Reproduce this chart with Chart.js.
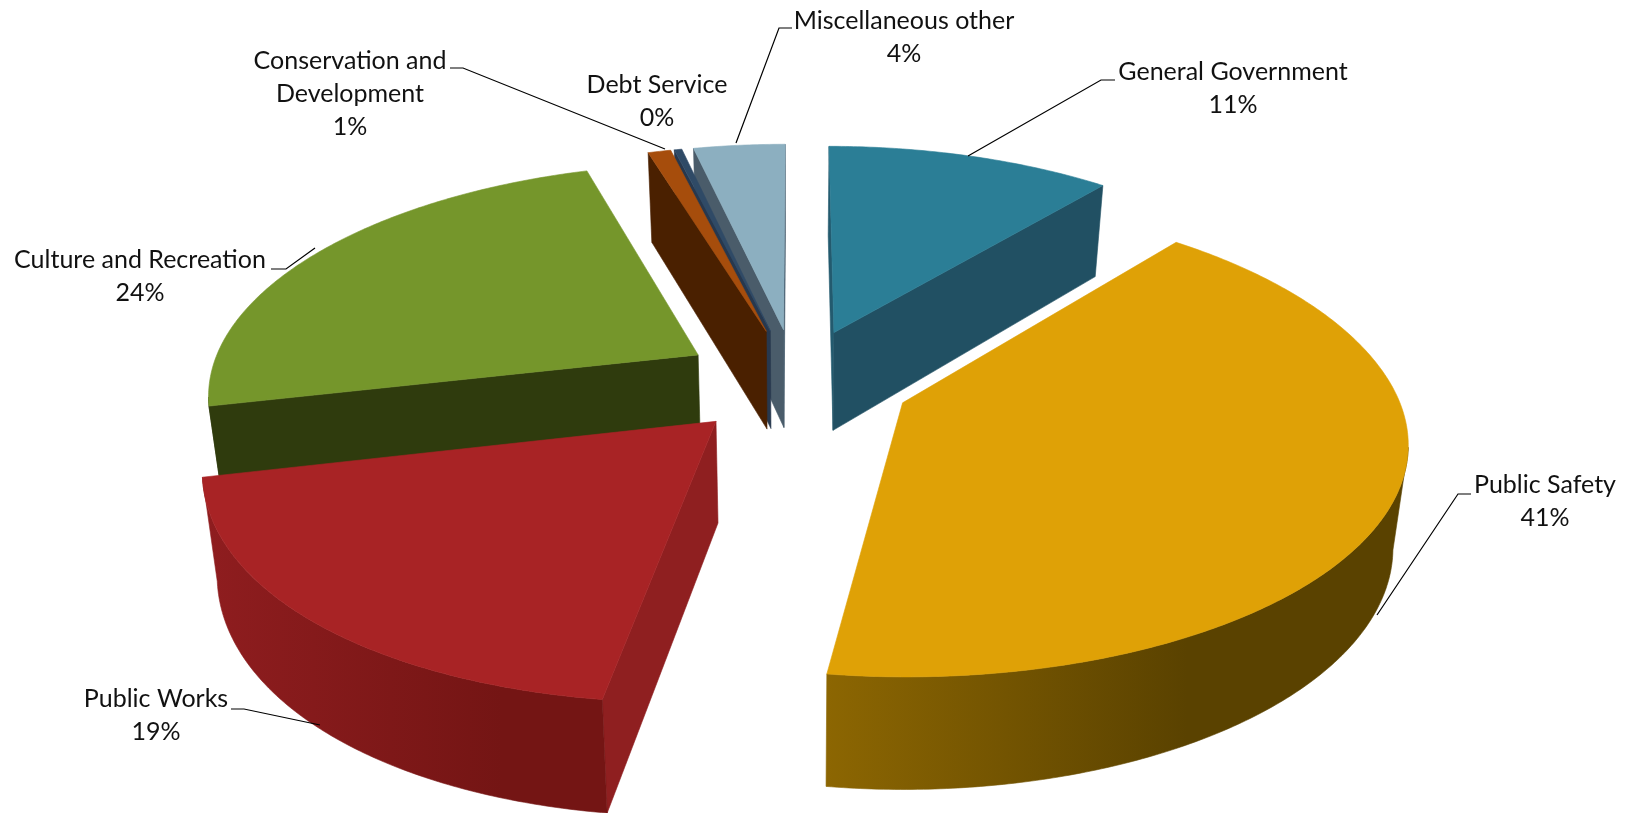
<!DOCTYPE html>
<html><head><meta charset="utf-8">
<script src="https://cdn.jsdelivr.net/npm/chart.js@4"></script>
<style>html,body{margin:0;padding:0;background:#fff;overflow:hidden}#w{width:1629px;height:813px;position:relative}</style>
</head><body><div id="w"><canvas id="c"></canvas></div>
<script>
// Data
const categories = ['General Government','Public Safety','Public Works','Culture and Recreation','Conservation and Development','Debt Service','Miscellaneous other'];
const values = [11.2,41.45,19.4,24.1,0.9,0.3,3.6];
const shownPercent = ['11%','41%','19%','24%','1%','0%','4%'];

// Styles
const topColors  = ['#2b7e96','#dfa106','#a82325','#75962b','#a64d0c','#2f4a66','#8cafc0'];
const startFace  = ['#235a6e','#5c4300','#8f1f20','#2f3b0d','#4a2000','#27384e','#4a5c6a'];
const endFace    = ['#215063','#5c4300','#8f1f20','#2f3b0d','#401e02','#27384e','#3f5566'];
const wallLeft   = ['#235a6e','#8c6602','#8f1d1f','#2f3b0d','#401e02','#27384e','#4a5c6a'];
const wallRight  = ['#235a6e','#5a4200','#741514','#2f3b0d','#401e02','#27384e','#4a5c6a'];
const drawOrder  = [0,6,5,4,3,1,2];
const labelLines = [['General Government'],['Public Safety'],['Public Works'],['Culture and Recreation'],['Conservation and','Development'],['Debt Service'],['Miscellaneous other']];
const labelXY    = [[1233,72],[1545,485],[156,699],[140,260],[350,61],[657,85],[904,21]];
const leaders    = [[[1115,80],[1101,80],[968,156]],[[1471,494],[1458,494],[1377,615]],[[231,709],[244,709],[320,725]],[[271,269],[286,269],[315,248]],[[450,68],[463,68],[665,149]],null,[[792,28],[779,28],[736,143]]];
const LINE_H = 33;
const SX = 1.437, SY = 0.665, PERSP = 0.147, PERSP_X = 0.155, DEPTH = 0.293, DEPTH_P = 0.68, NEAR_SKEW = 0.04, BOTTOM_X = 0.975;

const pie3d = {
  id:'pie3d',
  beforeDatasetsDraw(chart){
    const ctx = chart.ctx;
    const arcs = chart.getDatasetMeta(0).data;
    drawOrder.forEach(i=>drawSlice(ctx,arcs[i],i));
    return false;
  },
  afterDraw(chart){
    const ctx = chart.ctx;
    ctx.save();
    ctx.strokeStyle='#000';ctx.lineWidth=1.2;
    leaders.forEach(l=>{ if(!l) return; ctx.beginPath(); l.forEach((p,k)=>k?ctx.lineTo(p[0],p[1]):ctx.moveTo(p[0],p[1])); ctx.stroke(); });
    ctx.fillStyle='#111';ctx.textAlign='center';ctx.textBaseline='middle';
    ctx.font='25px Lato';
    categories.forEach((n,i)=>{
      const lines=[...labelLines[i],shownPercent[i]];
      lines.forEach((t,k)=>ctx.fillText(t,labelXY[i][0],labelXY[i][1]+k*LINE_H));
    });
    ctx.restore();
  }
};

function drawSlice(ctx,el,i){
  const r=el.outerRadius, cx=el.x, cy=el.y;
  const a0=el.startAngle+Math.PI/2, a1=el.endAngle+Math.PI/2, mid=(a0+a1)/2;
  const ex=(el.options.offset||0)/r;
  const ox=ex*Math.sin(mid), oy=ex*Math.cos(mid);
  const proj=(X,Y,down)=>{
    const w=1+PERSP*Y, wx=1+PERSP_X*Y;
    const d=down?DEPTH*r/Math.pow(w,DEPTH_P):0;
    const skew=Y<0?NEAR_SKEW*r*Y*Y:0;
    const sx=SX*r*X/wx-skew;
    return [cx+sx*(down?BOTTOM_X:1), cy-SY*r*Y/w+d];
  };
  const pt=(a,down)=>proj(ox+Math.sin(a),oy+Math.cos(a),down);
  const apex=d=>proj(ox,oy,d);
  const N=Math.max(4,Math.ceil((a1-a0)/0.01));
  const poly=(pts,fill)=>{ctx.beginPath();pts.forEach((p,k)=>k?ctx.lineTo(p[0],p[1]):ctx.moveTo(p[0],p[1]));ctx.closePath();ctx.fillStyle=fill;ctx.strokeStyle=fill;ctx.lineWidth=.6;ctx.fill();ctx.stroke();};
  const area=q=>q.reduce((s,p,k)=>{const n=q[(k+1)%q.length];return s+p[0]*n[1]-n[0]*p[1];},0);
  ctx.save();
  const qs=[apex(false),pt(a0,false),pt(a0,true),apex(true)];
  const qe=[apex(false),pt(a1,false),pt(a1,true),apex(true)];
  if(area(qs)<0) poly(qs,startFace[i]);
  if(area(qe)>0) poly(qe,endFace[i]);
  const top=[],bot=[];
  for(let k=0;k<=N;k++){
    const a=a0+(a1-a0)*k/N;
    const p=pt(a,false),n=pt(a+1e-3,false);
    if(n[0]<p[0]){top.push(p);bot.push(pt(a,true));}
  }
  if(top.length>1){
    const g=ctx.createLinearGradient(top[top.length-1][0],0,top[0][0],0);
    g.addColorStop(0,wallLeft[i]);
    g.addColorStop(i===1?0.62:0.75,wallRight[i]);
    g.addColorStop(1,wallRight[i]);
    poly(top.concat(bot.reverse()),g);
  }
  const face=[apex(false)];
  for(let k=0;k<=N;k++) face.push(pt(a0+(a1-a0)*k/N,false));
  poly(face,topColors[i]);
  ctx.restore();
}

new Chart(document.getElementById('c'),{
  type:'pie',
  data:{labels:categories,datasets:[{data:values,backgroundColor:topColors,borderWidth:0,offset:80}]},
  options:{responsive:true,maintainAspectRatio:false,animation:false,
    layout:{padding:{left:0,top:0,right:37,bottom:51}},
    plugins:{legend:{display:false},tooltip:{enabled:false}}},
  plugins:[pie3d]
});
</script></body></html>
